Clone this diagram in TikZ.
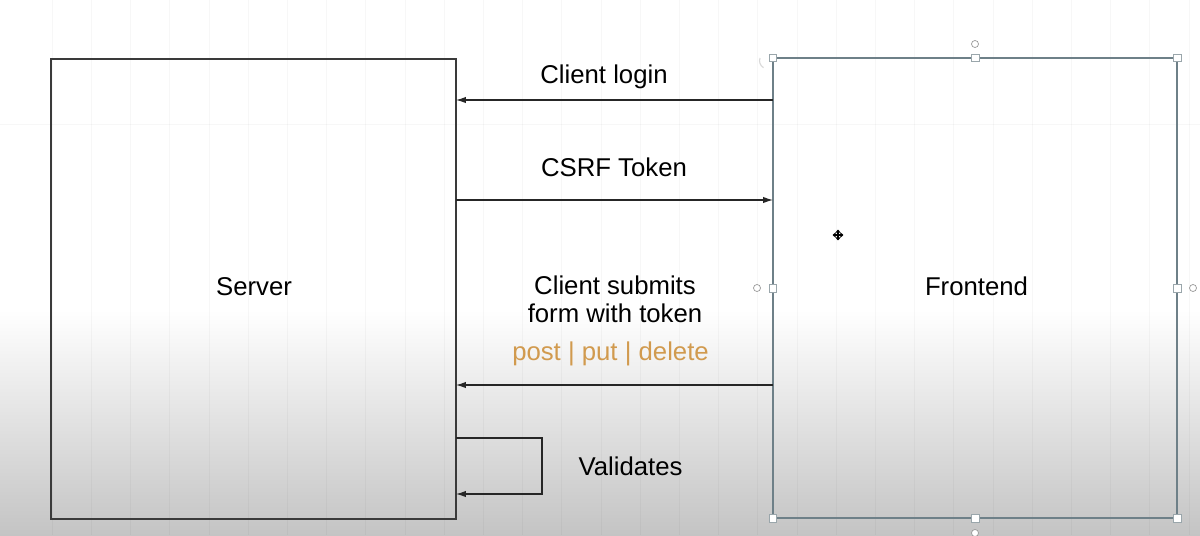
\documentclass[tikz,border=0pt]{standalone}
\usepackage{fontspec}
\setmainfont{Liberation Sans}
\usetikzlibrary{arrows.meta}
\definecolor{srvline}{HTML}{3A3A3A}
\definecolor{feline}{HTML}{6E8088}
\definecolor{handle}{HTML}{9AA6AB}
\definecolor{methodc}{HTML}{D19A4E}
\definecolor{bggray}{HTML}{C4C4C4}
\tikzset{
  lbl/.style={font=\fontsize{18.3}{20}\selectfont, text=black, inner sep=0pt, anchor=base},
  srvbox/.style={draw=srvline, line width=1pt, outer sep=0pt, inner sep=0pt,
                 minimum width=10.125cm, minimum height=11.5cm},
  febox/.style={draw=feline, line width=1pt, outer sep=0pt, inner sep=0pt,
                minimum width=10.1cm, minimum height=11.5cm},
  arr/.style={draw=black!85, line width=0.75pt, -{Latex[length=7pt,width=4.5pt]}},
  sqhandle/.style={draw=handle, fill=white, line width=0.5pt, minimum size=5.5pt, inner sep=0pt},
  cirhandle/.style={draw=gray!80, fill=white, line width=0.5pt, circle, minimum size=5pt, inner sep=0pt},
  gridline/.style={draw=black, opacity=0.03, line width=0.4pt}
}
\begin{document}
\begin{tikzpicture}[x=0.025cm, y=-0.025cm]
\useasboundingbox (0,0) rectangle (1200,535);
% background
\fill[white] (0,0) rectangle (1200,310);
\shade[top color=white, bottom color=bggray] (0,310) rectangle (1200,535);
% faint grid
\foreach \k in {0,...,29} {
  \draw[gridline] ({52+39.2*\k},0) -- ({52+39.2*\k},535);
}
\draw[gridline] (0,124) -- (1200,124);

% boxes
\node[srvbox] (server) at (253.5,289) {};
\node[febox] (frontend) at (975,288) {};
\node[lbl] (servert) at (254,295) {Server};
\node[lbl] (frontt) at (976.5,295) {Frontend};

% level coordinates
\coordinate (l1) at (0,100);
\coordinate (l2) at (0,200);
\coordinate (l3) at (0,385);
\coordinate (l4) at (0,438);
\coordinate (l5) at (0,494);
\coordinate (loopx) at (542,0);

% connectors
\draw[arr] (frontend.west |- l1) -- (server.east |- l1);
\draw[arr] (server.east |- l2) -- (frontend.west |- l2);
\draw[arr] (frontend.west |- l3) -- (server.east |- l3);
\draw[arr] (server.east |- l4) -- (loopx |- l4) -- (loopx |- l5) -- (server.east |- l5);

% labels
\node[lbl] (t1) at (604,83) {Client login};
\node[lbl] (t2) at (614,176) {CSRF Token};
\node[lbl] (t3a) at (615,294) {Client submits};
\node[lbl] (t3b) at (615,322) {form with token};
\node[lbl, text=methodc] (t3c) at (610.5,360) {post | put | delete};
\node[lbl] (t4) at (630.5,475) {Validates};

% selection handles on Frontend
\foreach \a in {north west,north,north east,east,south east,south,south west,west} {
  \node[sqhandle] at (frontend.\a) {};
}
\node[cirhandle] (rtop) at (975,44) {};
\node[cirhandle] (rbot) at (975,533) {};
\node[cirhandle] (rleft) at (757,288) {};
\node[cirhandle] (rright) at (1193,288) {};
% faint rotate mark
\draw[gray!30, line width=0.8pt] (760,58) arc[start angle=200, end angle=120, radius=8];
% move cursor
\coordinate (mv) at (838,235);
\foreach \d in {0,90,180,270} {
  \draw[black, line width=1pt, -{Triangle[length=2.2pt,width=3.6pt]}] (mv) -- ++(\d:5.5);
}
\end{tikzpicture}
\end{document}
